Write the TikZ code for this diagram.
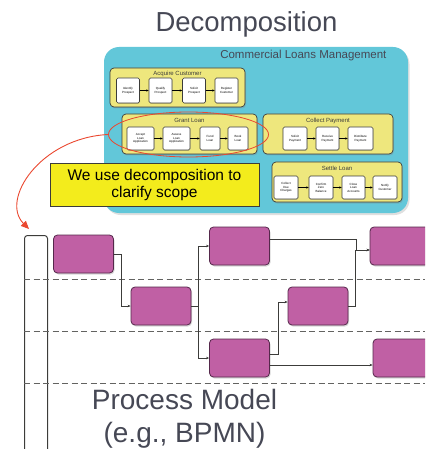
\documentclass[tikz,border=0pt]{standalone}
\usepackage{fontspec}
\setmainfont{Liberation Sans}
\definecolor{dcyan}{RGB}{98,199,217}
\definecolor{dsand}{RGB}{238,231,125}
\definecolor{dnote}{RGB}{243,236,28}
\definecolor{dgray}{RGB}{60,60,58}
\definecolor{dtext}{RGB}{70,72,85}
\definecolor{dred}{RGB}{234,72,48}
\definecolor{mplum}{RGB}{192,96,164}
\definecolor{dplum}{RGB}{85,40,75}
\usetikzlibrary{arrows.meta,positioning,shapes.geometric,shadows}

\begin{document}
\begin{tikzpicture}[x=1pt,y=-1pt,
  group/.style={draw=dgray,fill=dsand,rounded corners=4pt,line width=0.7pt,minimum width=130,minimum height=40,inner sep=0pt,
    drop shadow={opacity=0.3,shadow xshift=1pt,shadow yshift=-1.5pt}},
  gtitle/.style={font=\fontsize{6}{7}\selectfont,text=dgray,inner sep=0pt},
  task/.style={draw=dgray,fill=white,rounded corners=1.5pt,line width=0.6pt,minimum width=23,minimum height=23,inner sep=0pt,
    align=center,font=\fontsize{3}{3.5}\selectfont,drop shadow={opacity=0.25,shadow xshift=0.6pt,shadow yshift=-0.8pt}},
  tarrow/.style={line width=0.6pt,-{Stealth[length=2.5pt,width=2.2pt]}},
  act/.style={draw=dplum,fill=mplum,rounded corners=4pt,line width=0.8pt,minimum width=60,minimum height=38,inner sep=0pt,
    drop shadow={opacity=0.3,shadow xshift=1pt,shadow yshift=-1.5pt}},
  flow/.style={draw=dgray,line width=0.5pt,-{Stealth[length=3pt,width=2.5pt]}},
  lane/.style={draw=dgray!80,line width=0.8pt,dash pattern=on 6pt off 3.5pt}]
  \clip (0,0) rectangle (425,449);

  % decomposition
  \node[font=\fontsize{27.5}{30}\selectfont,text=dtext,anchor=base] (title) at (246.5,32) {Decomposition};
  \node[fill=dcyan,rounded corners=15pt,minimum width=304,minimum height=166,inner sep=0pt,
    drop shadow={opacity=0.25,shadow xshift=1.5pt,shadow yshift=-2pt}] (clm) at (256,130) {};
  \node[font=\fontsize{11.5}{13}\selectfont,text=dtext,anchor=base east] (clmtitle) at (390,59) {Commercial Loans Management};

  \node[group,minimum width=135,minimum height=39] (acq) at (177.5,87.5) {};
  \node[gtitle,below=3pt of acq.north] {Acquire Customer};
  \node[task,minimum height=25] (a1) at (128,90.5) {Identify\\Prospect};
  \node[task,minimum height=25] (a2) at (160.5,90.5) {Qualify\\Prospect};
  \node[task,minimum height=25] (a3) at (194,90.5) {Solicit\\Prospect};
  \node[task,minimum height=25] (a4) at (226.5,90.5) {Register\\Customer};

  \node[group,minimum width=135] (grant) at (189.5,134) {};
  \node[gtitle,below=4pt of grant.north] {Grant Loan};
  \node[task,minimum width=27] (g1) at (140.5,138.5) {Accept\\Loan\\Application};
  \node[task,minimum width=27] (g2) at (176.5,138.5) {Assess\\Loan\\Application};
  \node[task,minimum width=20] (g3) at (210,138.5) {Fund\\Loan};
  \node[task,minimum width=20] (g4) at (238,138.5) {Book\\Loan};

  \node[group] (collect) at (328,134) {};
  \node[gtitle,below=4pt of collect.north] {Collect Payment};
  \node[task,minimum width=24] (c1) at (295,138.5) {Solicit\\Payment};
  \node[task] (c2) at (327.5,138.5) {Receive\\Payment};
  \node[task,minimum width=25] (c3) at (360.5,138.5) {Distribute\\Payment};

  \node[group] (settle) at (337,182) {};
  \node[gtitle,below=4pt of settle.north] {Settle Loan};
  \node[task,minimum width=24] (s1) at (286,187.5) {Collect\\Due\\Charges};
  \node[task,minimum width=24] (s2) at (321,187.5) {Confirm\\Zero\\Balance};
  \node[task] (s3) at (353.5,187.5) {Close\\Loan\\Accounts};
  \node[task,minimum width=24] (s4) at (385,187.5) {Notify\\Customer};

  \foreach \a/\b in {a1/a2,a2/a3,a3/a4,g1/g2,g2/g3,g3/g4,c1/c2,c2/c3,s1/s2,s2/s3,s3/s4}
    \draw[tarrow] (\a) -- (\b);

  \node[draw=dred,ellipse,minimum width=160,minimum height=45,line width=0.8pt] (mark) at (188.5,134.5) {};
  \node[draw=dgray,fill=dnote,line width=0.8pt,minimum width=209,minimum height=43,inner sep=0pt,align=center,
    font=\fontsize{15.5}{17}\selectfont] (note) at (154.5,184.5) {We use decomposition to\\clarify scope};

  % process model
  \node[draw=dgray,line width=1pt,rounded corners=3pt,minimum width=23,minimum height=240,inner sep=0pt,anchor=north west] (pool) at (24,235) {};
  \coordinate (poolhead) at (29,229);
  \draw[dred,line width=0.9pt,-{Triangle[length=8pt,width=7pt]}] (mark.west) .. controls (40,138) and (0,200) .. (poolhead);

  \foreach \y in {279,331,383}
    \draw[lane] (24,\y) -- (425,\y);

  \node[act] (pa) at (83.5,254) {};
  \node[act] (pb) at (161,306) {};
  \node[act] (pc) at (239.5,246) {};
  \node[act] (pd) at (239.5,358) {};
  \node[act] (pe) at (318,306) {};
  \node[act] (pf) at (400,246) {};
  \node[act] (pg) at (403,358) {};

  \draw[flow] (pa.east) -- ++(7,0) |- (pb.west);
  \draw[flow] (pb.east) -- ++(7,0) |- (pc.west);
  \draw[flow] (pb.east) -- ++(7,0) |- (pd.west);
  \draw[flow] ([yshift=7pt]pc.east) -- ++(86,0) |- ([yshift=-4pt]pf.west);
  \draw[flow] (pe.east) -- ++(7,0) |- ([yshift=-4pt]pf.west);
  \draw[flow] ([yshift=4pt]pd.east) -- ++(8,0) |- ([yshift=4pt]pe.west);
  \draw[flow] ([yshift=-7pt]pd.east) -- ([yshift=-7pt]pg.west);

  \node[font=\fontsize{28}{33}\selectfont,text=dtext,align=center,anchor=base] (pm) at (184.5,442) {Process Model\\(e.g., BPMN)};
\end{tikzpicture}
\end{document}
